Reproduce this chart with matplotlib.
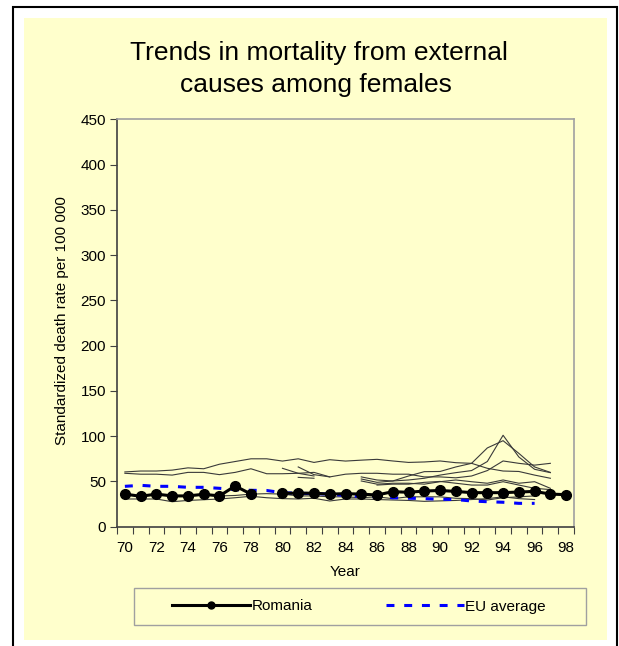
import numpy as np
import matplotlib
matplotlib.use("Agg")
import matplotlib.pyplot as plt
from matplotlib.patches import Rectangle
from matplotlib.lines import Line2D

plt.rcParams['font.family'] = ['Liberation Sans', 'DejaVu Sans']

nan = np.nan
years = list(range(70, 99))

# Romania (no value for 79)
romania = [36, 33.6, 36, 34, 34, 35.8, 34, 45, 36, nan,
           37, 37, 37, 36, 36.5, 36, 35, 38.7, 38, 39.4,
           40, 39, 37.6, 37.6, 37.6, 38.3, 39, 36, 35.4]

# EU average, 70-96
eu_average = [44.6, 45.7, 44.6, 44.6, 43.5, 43.5, 42.4, 40.9, 40.2, 40,
              37.5, 37, 36.5, 36, 34.5, 33.5, 33, 32, 31.5, 31,
              30.3, 30, 28.4, 27.6, 27, 25.8, 25.8]

# other countries: (first year, values)
others = [
    (70, [60.5, 61.5, 61.5, 62.5, 65, 64, 69, 72, 75, 75,
          72.5, 75, 71, 74, 72.5, 73.5, 74.4, 72.6, 71, 71.5,
          72.6, 70.7, 70, 87, 95, 81, 66, 60]),
    (70, [59, 58, 58, 57, 60, 60, 57.5, 60, 64, 58.5,
          58.5, 59, 60, 55, 58, 59, 59, 58, 58, 55,
          55, 54, 56, 62, 72.6, 70, 68, 70]),
    (85, [55, 51.6, 50.5, 56, 60.8, 61, 66, 70, 64.5, 61.5, 61, 57, 53.5]),
    (85, [52.7, 49, 50.5, 51.6, 53.5, 57, 59.7, 62, 72, 101, 77, 63.4, 59.7]),
    (85, [50.5, 47, 48, 48, 47, 49.7, 51.6, 49.7, 48, 51.6, 48, 49.7, 42.4]),
    (86, [46, 47, 47, 49, 50, 48, 46, 46, 49.7, 46, 42.4, 41]),
    (70, [30.6, 30.6, 30.6, 27.6, 29, 29.8, 30.6, 32, 33.6, 32,
          31, 30.6, 31.4, 28.4, 30.6, 30.6, 30, 29.5, 29, 28,
          28.5, 29, 30, 31, 33, 31, 30]),
    (76, [34, 34.5, 36, 36.5, 36, 34, 34, 33, 33, 32,
          33, 31, 33, 33, 33, 31.4, 31, 29.5, 32, 33, 34]),
    (80, [64.5, 59, 56]),
    (81, [66, 57.5, 55]),
    (81, [54.5, 53.5]),
]

yellow = '#FFFFCC'
W, H = 619, 646
fig = plt.figure(figsize=(W / 100, H / 100), dpi=100)

def fx(px):
    return px / W

def fy(py):
    return 1 - py / H

# outer frame and yellow chart area
fig.patches.append(Rectangle((fx(13), fy(660)), fx(617) - fx(13), fy(7) - fy(660),
                             transform=fig.transFigure, fill=False, edgecolor='black',
                             lw=1.5, zorder=-10))
fig.patches.append(Rectangle((fx(24), fy(640)), fx(607) - fx(24), fy(18) - fy(640),
                             transform=fig.transFigure, facecolor=yellow, edgecolor='none',
                             zorder=-10))
# legend box
fig.patches.append(Rectangle((fx(134), fy(625)), fx(586) - fx(134), fy(588) - fy(625),
                             transform=fig.transFigure, facecolor=yellow, edgecolor='#A0A0A0',
                             lw=1, zorder=-5))

ax = fig.add_axes([fx(117), fy(526.7), fx(574) - fx(117), fy(119.3) - fy(526.7)])
ax.set_facecolor(yellow)

for start, vals in others:
    xs = list(range(start, start + len(vals)))
    ax.plot(xs, vals, color='#3a3a3a', lw=0.8, zorder=2)

ax.plot(years[:len(eu_average)], eu_average, color='#0000FF', lw=2.2,
        linestyle=(0, (2.6, 3.2)), zorder=3, label='EU average')
ax.plot(years, romania, color='black', lw=2.2, marker='o', markersize=7,
        zorder=4, label='Romania')

ax.set_xlim(69.5, 98.5)
ax.set_ylim(0, 450)
ax.set_yticks(np.arange(0, 451, 50))
ax.set_xticks(np.arange(69.5, 99, 1))
ax.set_xticklabels([])
ax.set_xticks(years[::2], minor=True)
ax.set_xticklabels([str(y) for y in years[::2]], minor=True)
ax.tick_params(axis='x', which='major', direction='out', length=5, color='#404040')
ax.tick_params(axis='x', which='minor', length=0, pad=10, labelsize=11)
ax.tick_params(axis='y', direction='out', length=5, color='#404040', labelsize=11, pad=3)

for side in ['left', 'bottom']:
    ax.spines[side].set_color('#404040')
    ax.spines[side].set_linewidth(1.2)
for side in ['top', 'right']:
    ax.spines[side].set_color('#A0A0A0')
    ax.spines[side].set_linewidth(1.2)

fig.text(fx(319), fy(53), 'Trends in mortality from external', ha='center', va='center', fontsize=19)
fig.text(fx(316), fy(85), 'causes among females', ha='center', va='center', fontsize=19)
fig.text(fx(62), fy(321), 'Standardized death rate per 100 000', rotation=90,
         ha='center', va='center', fontsize=11)
fig.text(fx(345), fy(572), 'Year', ha='center', va='center', fontsize=11)

handles = [Line2D([], [], color='black', lw=2.2, marker='o', markersize=5),
           Line2D([], [], color='#0000FF', lw=2.2, linestyle=(0, (2.6, 3.2)))]
leg = fig.legend(handles, ['Romania', 'EU average'], ncol=2, frameon=False,
                 bbox_to_anchor=(fx(172), fy(606.5)), loc='center left',
                 fontsize=11, handlelength=5.1, handletextpad=0.1, columnspacing=4.8,
                 borderaxespad=0, borderpad=0)

fig.savefig('out.png', dpi=100)
